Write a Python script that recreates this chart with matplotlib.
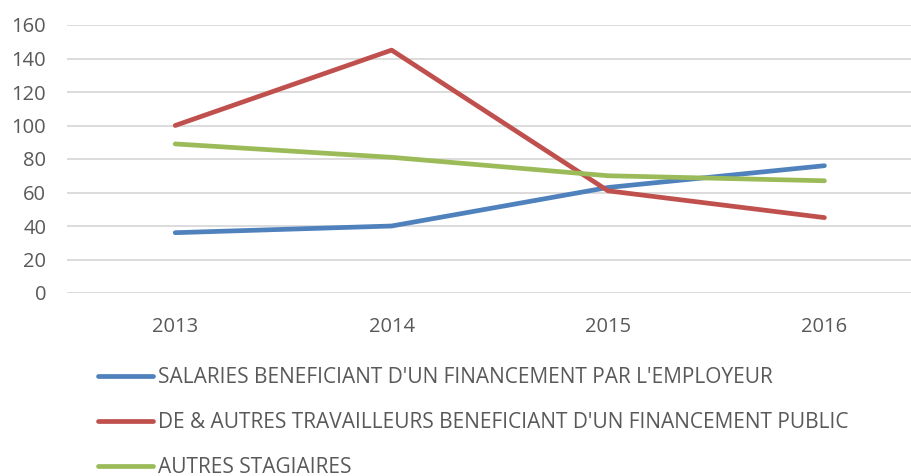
import matplotlib.pyplot as plt

# Data
years = ['2013', '2014', '2015', '2016']
salaries = [36, 40, 63, 76]
demandeurs = [100, 145, 61, 45]
autres = [89, 81, 70, 67]
labels = ["SALARIES BENEFICIANT D'UN FINANCEMENT PAR L'EMPLOYEUR",
          "DE & AUTRES TRAVAILLEURS BENEFICIANT D'UN FINANCEMENT PUBLIC",
          "AUTRES STAGIAIRES"]
colors = ['#4F81BD', '#C0504D', '#9BBB59']

plt.rcParams['font.family'] = ['Open Sans', 'DejaVu Sans']
text_color = '#595959'

fig = plt.figure(figsize=(9.11, 4.76), dpi=100)
ax = fig.add_axes([67 / 911, 1 - 293 / 476, 1 - 67 / 911, (293 - 25) / 476])

x = range(len(years))
for series, color, label in zip([salaries, demandeurs, autres], colors, labels):
    ax.plot(x, series, color=color, linewidth=3.4, solid_capstyle='round',
            solid_joinstyle='round', label=label)

ax.set_ylim(0, 160)
ax.set_xlim(-0.5, 3.4)
ax.set_yticks(range(0, 161, 20))
ax.set_xticks(list(x))
ax.set_xticklabels(years)
ax.grid(axis='y', color='#D9D9D9', linewidth=1.3)
ax.set_axisbelow(True)
for s in ax.spines.values():
    s.set_visible(False)
ax.tick_params(length=0, labelsize=14.5, colors=text_color)
ax.tick_params(axis='y', pad=15)
ax.tick_params(axis='x', pad=17)

leg = fig.legend(loc='upper left', bbox_to_anchor=(98 / 911, 1 - 367 / 476),
                 frameon=False, fontsize=15, handlelength=2.65,
                 handletextpad=0.24, labelspacing=1.15, borderaxespad=0,
                 borderpad=0)
for t in leg.get_texts():
    t.set_color(text_color)

fig.savefig('out.png', dpi=100)
